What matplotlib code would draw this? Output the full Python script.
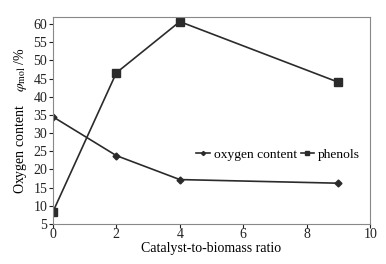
import matplotlib
matplotlib.use("Agg")
import matplotlib.pyplot as plt

plt.rcParams['font.family'] = ['Liberation Serif', 'DejaVu Serif']
plt.rcParams['mathtext.fontset'] = 'stix'

ratio = [0, 2, 4, 9]
oxygen = [34.5, 23.8, 17.2, 16.2]
phenols = [8.3, 46.6, 60.7, 44.0]
xticks = [0, 2, 4, 6, 8, 10]
yticks = [5, 10, 15, 20, 25, 30, 35, 40, 45, 50, 55, 60]

fig = plt.figure(figsize=(3.86, 2.64), dpi=100)
ax = fig.add_axes([0.137, 0.152, 0.822, 0.784])

c = '#2b2b2b'
ax.plot(ratio, oxygen, color=c, marker='D', markersize=3.5, lw=1.2, label='oxygen content')
ax.plot(ratio, phenols, color=c, marker='s', markersize=6, lw=1.2, label='phenols')

ax.set_xlim(0, 10)
ax.set_ylim(5, 62)
ax.set_xticks(xticks)
ax.set_yticks(yticks)
ax.tick_params(direction='out', length=3, width=0.8, labelsize=10, pad=1, colors='#222222')
ax.tick_params(axis='x', pad=0)
for s in ax.spines.values():
    s.set_color('#888888')
    s.set_linewidth(0.8)

ax.set_xlabel('Catalyst-to-biomass ratio', fontsize=10, labelpad=1)
ax.set_ylabel('Oxygen content    $\\varphi_{\\rm mol}$ /%', fontsize=10, labelpad=3)

ax.legend(loc='center left', bbox_to_anchor=(0.43, 0.333), ncol=2, frameon=False,
          fontsize=9.7, handlelength=1.0, handletextpad=0.3, columnspacing=0.3,
          borderpad=0, markerscale=0.6)

fig.savefig('out.png', dpi=100)
